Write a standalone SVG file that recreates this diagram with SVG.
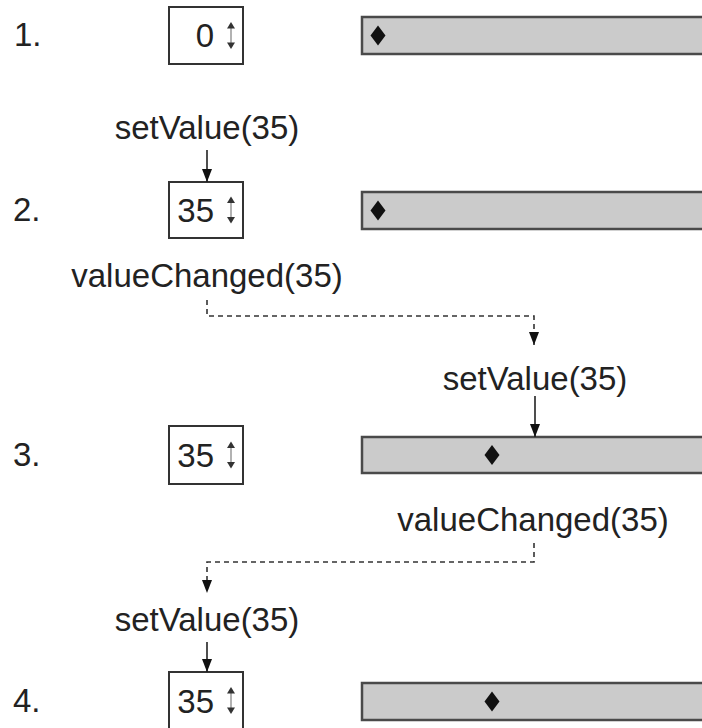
<svg xmlns="http://www.w3.org/2000/svg" width="702" height="728" viewBox="0 0 702 728">
<style>
  text { font-family: "Liberation Sans", Arial, sans-serif; font-size: 33px; fill: #222; }
  .num { text-anchor: start; }
  .val { text-anchor: end; }
  .lbl { text-anchor: middle; }
  .spin { fill: #fff; stroke: #333; stroke-width: 2; }
  .slider { fill: #cbcbcb; stroke: #4a4a4a; stroke-width: 2.5; }
  .thumb { fill: #111; }
  .spl { stroke: #999; stroke-width: 1.5; fill: none; }
  .spa { fill: #333; }
  .solid { stroke: #222; stroke-width: 1.6; fill: none; }
  .dash { stroke: #333; stroke-width: 1.6; fill: none; stroke-dasharray: 5 4; }
</style>
<defs>
  <marker id="ah" viewBox="0 0 13 10" refX="13" refY="5" markerWidth="13" markerHeight="10" markerUnits="userSpaceOnUse" orient="auto">
    <path d="M0,0 L13,5 L0,10 z" fill="#111"/>
  </marker>
  <g id="spinner">
    <line class="spl" x1="0" y1="-8" x2="0" y2="8"/>
    <path class="spa" d="M-4,-7 L0,-13.5 L4,-7 z"/>
    <path class="spa" d="M-4,7 L0,13.5 L4,7 z"/>
  </g>
</defs>

<g id="step-labels">
  <text class="num" x="14" y="46">1.</text>
  <text class="num" x="13" y="221">2.</text>
  <text class="num" x="13" y="466">3.</text>
  <text class="num" x="13" y="712">4.</text>
</g>

<g id="spin1">
  <rect class="spin" x="169" y="7" width="74" height="57"/>
  <text class="val" x="214" y="47">0</text>
  <use href="#spinner" x="231" y="35.5"/>
</g>
<g id="slider1">
  <rect class="slider" x="362" y="17" width="360" height="37"/>
  <path class="thumb" d="M378,25.5 L385.5,35.5 L378,45.5 L370.5,35.5 z"/>
</g>

<g id="spin2">
  <rect class="spin" x="169" y="182" width="74" height="56"/>
  <text class="val" x="214" y="222">35</text>
  <use href="#spinner" x="231" y="210"/>
</g>
<g id="slider2">
  <rect class="slider" x="362" y="192" width="360" height="37"/>
  <path class="thumb" d="M378,200.5 L385.5,210.5 L378,220.5 L370.5,210.5 z"/>
</g>

<g id="spin3">
  <rect class="spin" x="169" y="426" width="74" height="58"/>
  <text class="val" x="214" y="467">35</text>
  <use href="#spinner" x="231" y="455"/>
</g>
<g id="slider3">
  <rect class="slider" x="362" y="437" width="360" height="36"/>
  <path class="thumb" d="M492,445 L499.5,455 L492,465 L484.5,455 z"/>
</g>

<g id="spin4">
  <rect class="spin" x="169" y="672" width="74" height="60"/>
  <text class="val" x="214" y="713">35</text>
  <use href="#spinner" x="231" y="700.5"/>
</g>
<g id="slider4">
  <rect class="slider" x="362" y="683" width="360" height="37"/>
  <path class="thumb" d="M492,691.5 L499.5,701.5 L492,711.5 L484.5,701.5 z"/>
</g>

<g id="connectors">
  <text class="lbl" x="207" y="139">setValue(35)</text>
  <line class="solid" x1="207" y1="150" x2="207" y2="182" marker-end="url(#ah)"/>

  <text class="lbl" x="207" y="287">valueChanged(35)</text>
  <path class="dash" d="M207,300 L207,316 L534,316 L534,345" marker-end="url(#ah)"/>

  <text class="lbl" x="535" y="390">setValue(35)</text>
  <line class="solid" x1="535" y1="396" x2="535" y2="437" marker-end="url(#ah)"/>

  <text class="lbl" x="533" y="531">valueChanged(35)</text>
  <path class="dash" d="M534,543 L534,562 L207,562 L207,593" marker-end="url(#ah)"/>

  <text class="lbl" x="207" y="631">setValue(35)</text>
  <line class="solid" x1="207" y1="642" x2="207" y2="672" marker-end="url(#ah)"/>
</g>
</svg>
